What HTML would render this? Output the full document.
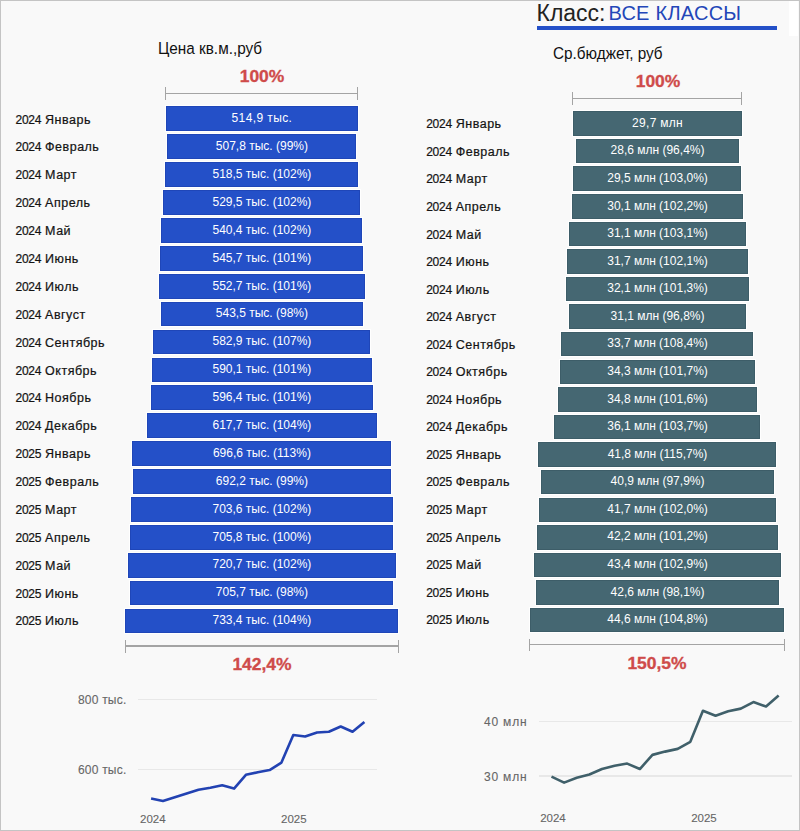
<!DOCTYPE html>
<html><head><meta charset="utf-8"><style>
html,body{margin:0;padding:0}
body{width:800px;height:831px;position:relative;overflow:hidden;background:#f9f9f9;font-family:"Liberation Sans",sans-serif}
.frame{position:absolute;left:0;top:0;width:798px;height:829px;border:1px solid #c4c4c4}
.t{position:absolute;white-space:nowrap;line-height:0}
.t span{display:inline-block;line-height:normal}
.bar{position:absolute;box-sizing:border-box}
.lb{position:absolute;white-space:nowrap;font-size:12.5px;color:#151515;line-height:1}
.lbs{-webkit-text-stroke:0.22px #111}
.yr{letter-spacing:-0.25px;font-size:12px}
.mo{letter-spacing:0.5px;margin-left:0.4px}
.bt{position:absolute;white-space:nowrap;font-size:12px;letter-spacing:0px;color:#fff;text-align:center;line-height:1}
.ln{position:absolute;background:#a4a4a4}
.red{position:absolute;white-space:nowrap;font-weight:bold;color:#cf4b4a;font-size:16px;line-height:1;text-align:center;transform:scaleX(1.09);-webkit-text-stroke:0.3px #cf4b4a}
.ax{position:absolute;white-space:nowrap;color:#666;font-size:12px;line-height:1;-webkit-text-stroke:0.1px #666}
.grid{position:absolute;height:1.5px;background:#e8e8e8}
</style></head><body>
<div class="frame"></div>
<div style="position:absolute;left:789px;top:1px;width:9px;height:35px;background:#fff"></div>
<div class="lb" style="left:536.50px;top:2.00px;font-size:23px;color:#222">Класс:</div>
<div class="lb" style="left:608.50px;top:2.80px;font-size:20px;color:#2346b8;letter-spacing:0.25px">ВСЕ КЛАССЫ</div>
<div style="position:absolute;left:537px;top:26.1px;width:240px;height:3.5px;background:#2450c8"></div>
<div class="lb" style="left:158.20px;top:39.60px;font-size:16.3px;color:#111;transform:scaleX(0.94);transform-origin:0 0">Цена кв.м.,руб</div>
<div class="lb" style="left:553.30px;top:44.60px;font-size:16.3px;color:#111;transform:scaleX(0.94);transform-origin:0 0">Ср.бюджет, руб</div>
<div class="red" style="left:202.00px;top:68.80px;width:120px">100%</div>
<div class="ln" style="left:165.20px;top:87.00px;width:1.2px;height:13.00px"></div>
<div class="ln" style="left:357.20px;top:87.00px;width:1.2px;height:13.00px"></div>
<div class="ln" style="left:165.80px;top:92.85px;width:192.00px;height:1.3px"></div>
<div class="bar" style="left:165.85px;top:106.40px;width:191.80px;height:24.8px;background:#2450c8;box-shadow:0 0 0 1px #fff,inset 0 0 0 1px #1f46b8"></div>
<div class="lb lbs" style="left:15.5px;top:113.60px"><span class="yr">2024</span> <span class="mo">Январь</span></div>
<div class="bt" style="left:161.95px;top:112.30px;width:200px;letter-spacing:0.4px">514,9 тыс.</div>
<div class="bar" style="left:167.17px;top:134.30px;width:189.16px;height:24.8px;background:#2450c8;box-shadow:0 0 0 1px #fff,inset 0 0 0 1px #1f46b8"></div>
<div class="lb lbs" style="left:15.5px;top:141.48px"><span class="yr">2024</span> <span class="mo">Февраль</span></div>
<div class="bt" style="left:161.93px;top:140.18px;width:200px">507,8 тыс. (99%)</div>
<div class="bar" style="left:165.18px;top:162.20px;width:193.14px;height:24.8px;background:#2450c8;box-shadow:0 0 0 1px #fff,inset 0 0 0 1px #1f46b8"></div>
<div class="lb lbs" style="left:15.5px;top:169.36px"><span class="yr">2024</span> <span class="mo">Март</span></div>
<div class="bt" style="left:161.93px;top:168.06px;width:200px">518,5 тыс. (102%)</div>
<div class="bar" style="left:163.13px;top:190.10px;width:197.24px;height:24.8px;background:#2450c8;box-shadow:0 0 0 1px #fff,inset 0 0 0 1px #1f46b8"></div>
<div class="lb lbs" style="left:15.5px;top:197.24px"><span class="yr">2024</span> <span class="mo">Апрель</span></div>
<div class="bt" style="left:161.93px;top:195.94px;width:200px">529,5 тыс. (102%)</div>
<div class="bar" style="left:161.10px;top:218.00px;width:201.30px;height:24.8px;background:#2450c8;box-shadow:0 0 0 1px #fff,inset 0 0 0 1px #1f46b8"></div>
<div class="lb lbs" style="left:15.5px;top:225.12px"><span class="yr">2024</span> <span class="mo">Май</span></div>
<div class="bt" style="left:161.93px;top:223.82px;width:200px">540,4 тыс. (102%)</div>
<div class="bar" style="left:160.11px;top:245.90px;width:203.27px;height:24.8px;background:#2450c8;box-shadow:0 0 0 1px #fff,inset 0 0 0 1px #1f46b8"></div>
<div class="lb lbs" style="left:15.5px;top:253.00px"><span class="yr">2024</span> <span class="mo">Июнь</span></div>
<div class="bt" style="left:161.93px;top:251.70px;width:200px">545,7 тыс. (101%)</div>
<div class="bar" style="left:158.81px;top:273.80px;width:205.88px;height:24.8px;background:#2450c8;box-shadow:0 0 0 1px #fff,inset 0 0 0 1px #1f46b8"></div>
<div class="lb lbs" style="left:15.5px;top:280.88px"><span class="yr">2024</span> <span class="mo">Июль</span></div>
<div class="bt" style="left:161.93px;top:279.58px;width:200px">552,7 тыс. (101%)</div>
<div class="bar" style="left:160.52px;top:301.70px;width:202.45px;height:24.8px;background:#2450c8;box-shadow:0 0 0 1px #fff,inset 0 0 0 1px #1f46b8"></div>
<div class="lb lbs" style="left:15.5px;top:308.76px"><span class="yr">2024</span> <span class="mo">Август</span></div>
<div class="bt" style="left:161.93px;top:307.46px;width:200px">543,5 тыс. (98%)</div>
<div class="bar" style="left:153.18px;top:329.60px;width:217.13px;height:24.8px;background:#2450c8;box-shadow:0 0 0 1px #fff,inset 0 0 0 1px #1f46b8"></div>
<div class="lb lbs" style="left:15.5px;top:336.64px"><span class="yr">2024</span> <span class="mo">Сентябрь</span></div>
<div class="bt" style="left:161.93px;top:335.34px;width:200px">582,9 тыс. (107%)</div>
<div class="bar" style="left:151.84px;top:357.50px;width:219.81px;height:24.8px;background:#2450c8;box-shadow:0 0 0 1px #fff,inset 0 0 0 1px #1f46b8"></div>
<div class="lb lbs" style="left:15.5px;top:364.52px"><span class="yr">2024</span> <span class="mo">Октябрь</span></div>
<div class="bt" style="left:161.93px;top:363.22px;width:200px">590,1 тыс. (101%)</div>
<div class="bar" style="left:150.67px;top:385.40px;width:222.16px;height:24.8px;background:#2450c8;box-shadow:0 0 0 1px #fff,inset 0 0 0 1px #1f46b8"></div>
<div class="lb lbs" style="left:15.5px;top:392.40px"><span class="yr">2024</span> <span class="mo">Ноябрь</span></div>
<div class="bt" style="left:161.93px;top:391.10px;width:200px">596,4 тыс. (101%)</div>
<div class="bar" style="left:146.70px;top:413.30px;width:230.09px;height:24.8px;background:#2450c8;box-shadow:0 0 0 1px #fff,inset 0 0 0 1px #1f46b8"></div>
<div class="lb lbs" style="left:15.5px;top:420.28px"><span class="yr">2024</span> <span class="mo">Декабрь</span></div>
<div class="bt" style="left:161.93px;top:418.98px;width:200px">617,7 тыс. (104%)</div>
<div class="bar" style="left:132.01px;top:441.20px;width:259.48px;height:24.8px;background:#2450c8;box-shadow:0 0 0 1px #fff,inset 0 0 0 1px #1f46b8"></div>
<div class="lb lbs" style="left:15.5px;top:448.16px"><span class="yr">2025</span> <span class="mo">Январь</span></div>
<div class="bt" style="left:161.93px;top:446.86px;width:200px">696,6 тыс. (113%)</div>
<div class="bar" style="left:132.83px;top:469.10px;width:257.84px;height:24.8px;background:#2450c8;box-shadow:0 0 0 1px #fff,inset 0 0 0 1px #1f46b8"></div>
<div class="lb lbs" style="left:15.5px;top:476.04px"><span class="yr">2025</span> <span class="mo">Февраль</span></div>
<div class="bt" style="left:161.93px;top:474.74px;width:200px">692,2 тыс. (99%)</div>
<div class="bar" style="left:130.70px;top:497.00px;width:262.09px;height:24.8px;background:#2450c8;box-shadow:0 0 0 1px #fff,inset 0 0 0 1px #1f46b8"></div>
<div class="lb lbs" style="left:15.5px;top:503.92px"><span class="yr">2025</span> <span class="mo">Март</span></div>
<div class="bt" style="left:161.93px;top:502.62px;width:200px">703,6 тыс. (102%)</div>
<div class="bar" style="left:130.29px;top:524.90px;width:262.91px;height:24.8px;background:#2450c8;box-shadow:0 0 0 1px #fff,inset 0 0 0 1px #1f46b8"></div>
<div class="lb lbs" style="left:15.5px;top:531.80px"><span class="yr">2025</span> <span class="mo">Апрель</span></div>
<div class="bt" style="left:161.93px;top:530.50px;width:200px">705,8 тыс. (100%)</div>
<div class="bar" style="left:127.52px;top:552.80px;width:268.46px;height:24.8px;background:#2450c8;box-shadow:0 0 0 1px #fff,inset 0 0 0 1px #1f46b8"></div>
<div class="lb lbs" style="left:15.5px;top:559.68px"><span class="yr">2025</span> <span class="mo">Май</span></div>
<div class="bt" style="left:161.93px;top:558.38px;width:200px">720,7 тыс. (102%)</div>
<div class="bar" style="left:130.31px;top:580.70px;width:262.87px;height:24.8px;background:#2450c8;box-shadow:0 0 0 1px #fff,inset 0 0 0 1px #1f46b8"></div>
<div class="lb lbs" style="left:15.5px;top:587.56px"><span class="yr">2025</span> <span class="mo">Июнь</span></div>
<div class="bt" style="left:161.93px;top:586.26px;width:200px">705,7 тыс. (98%)</div>
<div class="bar" style="left:125.15px;top:608.60px;width:273.19px;height:24.8px;background:#2450c8;box-shadow:0 0 0 1px #fff,inset 0 0 0 1px #1f46b8"></div>
<div class="lb lbs" style="left:15.5px;top:615.44px"><span class="yr">2025</span> <span class="mo">Июль</span></div>
<div class="bt" style="left:161.93px;top:614.14px;width:200px">733,4 тыс. (104%)</div>
<div class="ln" style="left:124.70px;top:640.00px;width:1.2px;height:12.50px"></div>
<div class="ln" style="left:397.70px;top:640.00px;width:1.2px;height:12.50px"></div>
<div class="ln" style="left:125.30px;top:645.35px;width:273.00px;height:1.3px"></div>
<div class="red" style="left:201.90px;top:657.00px;width:120px">142,4%</div>
<div class="red" style="left:597.50px;top:74.30px;width:120px">100%</div>
<div class="ln" style="left:571.80px;top:92.00px;width:1.2px;height:12.60px"></div>
<div class="ln" style="left:741.30px;top:92.00px;width:1.2px;height:12.60px"></div>
<div class="ln" style="left:572.40px;top:97.75px;width:169.50px;height:1.3px"></div>
<div class="bar" style="left:572.71px;top:111.25px;width:169.29px;height:24.5px;background:#456772;box-shadow:0 0 0 1px #fff,inset 0 0 0 1px #3d5d68"></div>
<div class="lb lbs" style="left:426.2px;top:118.40px"><span class="yr">2024</span> <span class="mo">Январь</span></div>
<div class="bt" style="left:557.55px;top:116.90px;width:200px;letter-spacing:0.3px">29,7 млн</div>
<div class="bar" style="left:575.84px;top:138.84px;width:163.02px;height:24.5px;background:#456772;box-shadow:0 0 0 1px #fff,inset 0 0 0 1px #3d5d68"></div>
<div class="lb lbs" style="left:426.2px;top:145.94px"><span class="yr">2024</span> <span class="mo">Февраль</span></div>
<div class="bt" style="left:557.52px;top:144.47px;width:200px">28,6 млн (96,4%)</div>
<div class="bar" style="left:573.27px;top:166.43px;width:168.15px;height:24.5px;background:#456772;box-shadow:0 0 0 1px #fff,inset 0 0 0 1px #3d5d68"></div>
<div class="lb lbs" style="left:426.2px;top:173.48px"><span class="yr">2024</span> <span class="mo">Март</span></div>
<div class="bt" style="left:557.52px;top:172.04px;width:200px">29,5 млн (103,0%)</div>
<div class="bar" style="left:571.57px;top:194.02px;width:171.57px;height:24.5px;background:#456772;box-shadow:0 0 0 1px #fff,inset 0 0 0 1px #3d5d68"></div>
<div class="lb lbs" style="left:426.2px;top:201.02px"><span class="yr">2024</span> <span class="mo">Апрель</span></div>
<div class="bt" style="left:557.52px;top:199.61px;width:200px">30,1 млн (102,2%)</div>
<div class="bar" style="left:568.72px;top:221.61px;width:177.27px;height:24.5px;background:#456772;box-shadow:0 0 0 1px #fff,inset 0 0 0 1px #3d5d68"></div>
<div class="lb lbs" style="left:426.2px;top:228.56px"><span class="yr">2024</span> <span class="mo">Май</span></div>
<div class="bt" style="left:557.52px;top:227.18px;width:200px">31,1 млн (103,1%)</div>
<div class="bar" style="left:567.00px;top:249.20px;width:180.69px;height:24.5px;background:#456772;box-shadow:0 0 0 1px #fff,inset 0 0 0 1px #3d5d68"></div>
<div class="lb lbs" style="left:426.2px;top:256.10px"><span class="yr">2024</span> <span class="mo">Июнь</span></div>
<div class="bt" style="left:557.52px;top:254.75px;width:200px">31,7 млн (102,1%)</div>
<div class="bar" style="left:565.87px;top:276.79px;width:182.97px;height:24.5px;background:#456772;box-shadow:0 0 0 1px #fff,inset 0 0 0 1px #3d5d68"></div>
<div class="lb lbs" style="left:426.2px;top:283.64px"><span class="yr">2024</span> <span class="mo">Июль</span></div>
<div class="bt" style="left:557.52px;top:282.32px;width:200px">32,1 млн (101,3%)</div>
<div class="bar" style="left:568.72px;top:304.38px;width:177.27px;height:24.5px;background:#456772;box-shadow:0 0 0 1px #fff,inset 0 0 0 1px #3d5d68"></div>
<div class="lb lbs" style="left:426.2px;top:311.18px"><span class="yr">2024</span> <span class="mo">Август</span></div>
<div class="bt" style="left:557.52px;top:309.89px;width:200px">31,1 млн (96,8%)</div>
<div class="bar" style="left:561.31px;top:331.97px;width:192.09px;height:24.5px;background:#456772;box-shadow:0 0 0 1px #fff,inset 0 0 0 1px #3d5d68"></div>
<div class="lb lbs" style="left:426.2px;top:338.72px"><span class="yr">2024</span> <span class="mo">Сентябрь</span></div>
<div class="bt" style="left:557.52px;top:337.46px;width:200px">33,7 млн (108,4%)</div>
<div class="bar" style="left:559.60px;top:359.56px;width:195.51px;height:24.5px;background:#456772;box-shadow:0 0 0 1px #fff,inset 0 0 0 1px #3d5d68"></div>
<div class="lb lbs" style="left:426.2px;top:366.26px"><span class="yr">2024</span> <span class="mo">Октябрь</span></div>
<div class="bt" style="left:557.52px;top:365.03px;width:200px">34,3 млн (101,7%)</div>
<div class="bar" style="left:558.17px;top:387.15px;width:198.36px;height:24.5px;background:#456772;box-shadow:0 0 0 1px #fff,inset 0 0 0 1px #3d5d68"></div>
<div class="lb lbs" style="left:426.2px;top:393.80px"><span class="yr">2024</span> <span class="mo">Ноябрь</span></div>
<div class="bt" style="left:557.52px;top:392.60px;width:200px">34,8 млн (101,6%)</div>
<div class="bar" style="left:554.47px;top:414.74px;width:205.77px;height:24.5px;background:#456772;box-shadow:0 0 0 1px #fff,inset 0 0 0 1px #3d5d68"></div>
<div class="lb lbs" style="left:426.2px;top:421.34px"><span class="yr">2024</span> <span class="mo">Декабрь</span></div>
<div class="bt" style="left:557.52px;top:420.17px;width:200px">36,1 млн (103,7%)</div>
<div class="bar" style="left:538.22px;top:442.33px;width:238.26px;height:24.5px;background:#456772;box-shadow:0 0 0 1px #fff,inset 0 0 0 1px #3d5d68"></div>
<div class="lb lbs" style="left:426.2px;top:448.88px"><span class="yr">2025</span> <span class="mo">Январь</span></div>
<div class="bt" style="left:557.52px;top:447.74px;width:200px">41,8 млн (115,7%)</div>
<div class="bar" style="left:540.79px;top:469.92px;width:233.13px;height:24.5px;background:#456772;box-shadow:0 0 0 1px #fff,inset 0 0 0 1px #3d5d68"></div>
<div class="lb lbs" style="left:426.2px;top:476.42px"><span class="yr">2025</span> <span class="mo">Февраль</span></div>
<div class="bt" style="left:557.52px;top:475.31px;width:200px">40,9 млн (97,9%)</div>
<div class="bar" style="left:538.50px;top:497.51px;width:237.69px;height:24.5px;background:#456772;box-shadow:0 0 0 1px #fff,inset 0 0 0 1px #3d5d68"></div>
<div class="lb lbs" style="left:426.2px;top:503.96px"><span class="yr">2025</span> <span class="mo">Март</span></div>
<div class="bt" style="left:557.52px;top:502.88px;width:200px">41,7 млн (102,0%)</div>
<div class="bar" style="left:537.08px;top:525.10px;width:240.54px;height:24.5px;background:#456772;box-shadow:0 0 0 1px #fff,inset 0 0 0 1px #3d5d68"></div>
<div class="lb lbs" style="left:426.2px;top:531.50px"><span class="yr">2025</span> <span class="mo">Апрель</span></div>
<div class="bt" style="left:557.52px;top:530.45px;width:200px">42,2 млн (101,2%)</div>
<div class="bar" style="left:533.66px;top:552.69px;width:247.38px;height:24.5px;background:#456772;box-shadow:0 0 0 1px #fff,inset 0 0 0 1px #3d5d68"></div>
<div class="lb lbs" style="left:426.2px;top:559.04px"><span class="yr">2025</span> <span class="mo">Май</span></div>
<div class="bt" style="left:557.52px;top:558.02px;width:200px">43,4 млн (102,9%)</div>
<div class="bar" style="left:535.94px;top:580.28px;width:242.82px;height:24.5px;background:#456772;box-shadow:0 0 0 1px #fff,inset 0 0 0 1px #3d5d68"></div>
<div class="lb lbs" style="left:426.2px;top:586.58px"><span class="yr">2025</span> <span class="mo">Июнь</span></div>
<div class="bt" style="left:557.52px;top:585.59px;width:200px">42,6 млн (98,1%)</div>
<div class="bar" style="left:530.24px;top:607.87px;width:254.22px;height:24.5px;background:#456772;box-shadow:0 0 0 1px #fff,inset 0 0 0 1px #3d5d68"></div>
<div class="lb lbs" style="left:426.2px;top:614.12px"><span class="yr">2025</span> <span class="mo">Июль</span></div>
<div class="bt" style="left:557.52px;top:613.16px;width:200px">44,6 млн (104,8%)</div>
<div class="ln" style="left:529.20px;top:638.80px;width:1.2px;height:12.50px"></div>
<div class="ln" style="left:784.10px;top:638.80px;width:1.2px;height:12.50px"></div>
<div class="ln" style="left:529.80px;top:644.15px;width:254.90px;height:1.3px"></div>
<div class="red" style="left:597.45px;top:655.60px;width:120px">150,5%</div>
<div class="grid" style="left:138px;top:698.8px;width:239px"></div>
<div class="grid" style="left:138px;top:768.8px;width:239px"></div>
<div class="grid" style="left:539px;top:720.9px;width:253px"></div>
<div class="grid" style="left:539px;top:775.3px;width:253px"></div>
<div class="ax" style="left:78px;top:694.20px;letter-spacing:0.2px">800 тыс.</div>
<div class="ax" style="left:78px;top:764.20px;letter-spacing:0.2px">600 тыс.</div>
<div class="ax" style="left:140px;top:813.70px;font-size:11.5px">2024</div>
<div class="ax" style="left:281px;top:813.70px;font-size:11.5px">2025</div>
<div class="ax" style="left:484px;top:716.30px;letter-spacing:0.8px">40 млн</div>
<div class="ax" style="left:484px;top:770.80px;letter-spacing:0.8px">30 млн</div>
<div class="ax" style="left:540.2px;top:812.50px;font-size:11.5px">2024</div>
<div class="ax" style="left:691.2px;top:812.50px;font-size:11.5px">2025</div>
<svg style="position:absolute;left:0;top:0" width="800" height="831"><polyline points="151.10,798.58 162.95,801.07 174.80,797.32 186.65,793.47 198.50,789.66 210.35,787.80 222.20,785.35 234.05,788.57 245.90,774.78 257.75,772.26 269.60,770.06 281.45,762.60 293.30,734.99 305.15,736.53 317.00,732.54 328.85,731.77 340.70,726.55 352.55,731.80 364.40,722.11" fill="none" stroke="#2242b2" stroke-width="2.6" stroke-linejoin="round"/><polyline points="551.50,776.63 564.12,782.62 576.74,777.72 589.36,774.46 601.98,769.02 614.60,765.75 627.22,763.58 639.84,769.02 652.46,754.87 665.08,751.61 677.70,748.89 690.32,741.82 702.94,710.81 715.56,715.70 728.18,711.35 740.80,708.63 753.42,702.10 766.04,706.46 778.66,695.58" fill="none" stroke="#40606a" stroke-width="2.6" stroke-linejoin="round"/></svg>
</body></html>
